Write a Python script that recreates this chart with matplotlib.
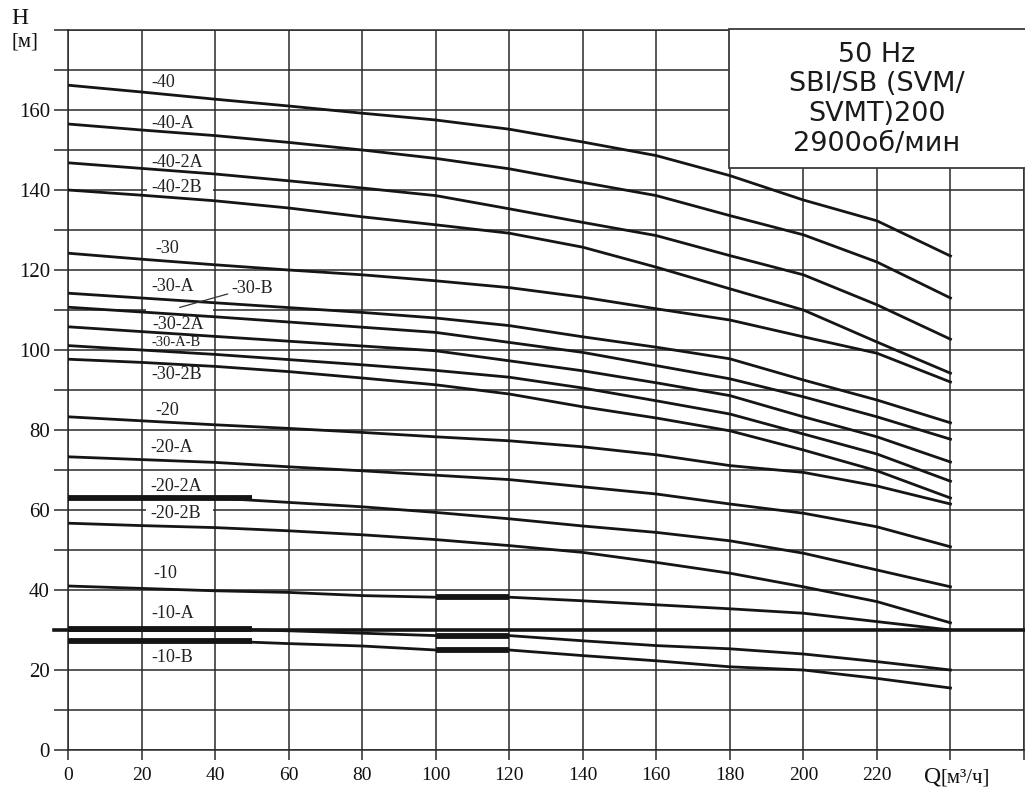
import matplotlib
matplotlib.use("Agg")
import matplotlib.pyplot as plt
from matplotlib.patches import Rectangle

plt.rcParams['font.family'] = ['Liberation Serif', 'DejaVu Serif']

# ---------------- data ----------------
Q = [0, 20, 40, 60, 80, 100, 120, 140, 160, 180, 200, 220, 240]

h_40    = [166.2, 164.5, 162.7, 161.0, 159.2, 157.5, 155.2, 152.0, 148.6, 143.6, 137.5, 132.3, 123.5]
h_40A   = [156.5, 155.0, 153.6, 151.9, 150.0, 147.9, 145.3, 141.9, 138.6, 133.6, 128.8, 122.0, 113.0]
h_40_2A = [146.8, 145.4, 144.0, 142.3, 140.5, 138.6, 135.3, 131.9, 128.6, 123.6, 118.8, 111.3, 102.7]
h_40_2B = [140.0, 138.7, 137.3, 135.5, 133.3, 131.3, 129.2, 125.7, 120.7, 115.3, 110.0, 102.0, 94.2]
h_30    = [124.2, 122.7, 121.3, 120.0, 118.8, 117.3, 115.6, 113.2, 110.3, 107.5, 103.3, 99.2, 92.0]
h_30A   = [114.2, 113.0, 111.8, 110.6, 109.4, 108.0, 106.1, 103.3, 100.7, 97.8, 92.5, 87.5, 81.8]
h_30B   = [110.7, 109.5, 108.3, 107.0, 105.7, 104.4, 101.9, 99.4, 96.1, 92.8, 88.3, 83.3, 77.7]
h_30_2A = [105.8, 104.6, 103.4, 102.2, 101.0, 99.8, 97.3, 94.8, 91.8, 88.6, 83.3, 78.3, 72.0]
h_30AB  = [101.1, 100.0, 98.9, 97.6, 96.3, 94.9, 93.2, 90.5, 87.3, 84.0, 79.0, 74.0, 67.2]
h_30_2B = [97.7, 96.9, 95.9, 94.6, 93.0, 91.3, 89.0, 85.8, 83.0, 79.8, 75.0, 69.8, 63.0]
h_20    = [83.3, 82.3, 81.3, 80.4, 79.4, 78.3, 77.3, 75.8, 73.8, 71.1, 69.4, 66.0, 61.5]
h_20A   = [73.3, 72.6, 71.9, 70.8, 69.8, 68.7, 67.6, 65.8, 64.0, 61.5, 59.2, 55.8, 50.8]
h_20_2A = [63.0, 63.0, 63.0, 61.9, 60.8, 59.4, 57.8, 56.0, 54.4, 52.3, 49.2, 45.0, 40.8]
h_20_2B = [56.7, 56.1, 55.6, 54.8, 53.8, 52.6, 51.1, 49.4, 46.9, 44.2, 40.8, 37.1, 31.8]
h_10    = [41.0, 40.4, 39.8, 39.4, 38.6, 38.2, 38.2, 37.3, 36.3, 35.3, 34.2, 32.1, 30.0]
h_10A   = [30.3, 30.3, 30.3, 29.8, 29.2, 28.6, 28.6, 27.3, 26.1, 25.3, 24.0, 22.1, 20.0]
h_10B   = [27.3, 27.3, 27.3, 26.6, 26.0, 25.0, 25.0, 23.6, 22.3, 20.8, 20.0, 17.9, 15.5]

curve_names = ["-40", "-40-A", "-40-2A", "-40-2B", "-30", "-30-A", "-30-B", "-30-2A",
               "-30-A-B", "-30-2B", "-20", "-20-A", "-20-2A", "-20-2B", "-10", "-10-A", "-10-B"]
curve_values = [h_40, h_40A, h_40_2A, h_40_2B, h_30, h_30A, h_30B, h_30_2A,
                h_30AB, h_30_2B, h_20, h_20A, h_20_2A, h_20_2B, h_10, h_10A, h_10B]

# label anchor (Q, H) for each curve label
label_q = [22.8, 22.8, 22.6, 22.6, 23.8, 22.8, 44.5, 23.0, 22.8, 22.8, 23.8, 22.3, 22.3, 22.3, 23.2, 22.8, 22.8]
label_h = [167.0, 156.6, 146.8, 140.6, 125.3, 115.8, 115.3, 106.4, 101.9, 93.8, 84.8, 75.6, 65.8, 59.1, 44.1, 34.1, 23.1]

# grid-line gaps left around some labels (Q from, Q to, grid H)
gap_q0 = [21.4, 21.2, 21.2]
gap_q1 = [39.4, 39.4, 39.4]
gap_h = [140, 110, 60]

# highlighted working ranges (Q start, Q end, H)
thick_q0 = [0, 0, 0, 100, 100, 100]
thick_q1 = [50, 50, 50, 120, 120, 120]
thick_h = [63.0, 30.3, 27.3, 38.2, 28.6, 25.0]

x_ticks = list(range(0, 261, 20))
x_ticklabels = [str(v) if v <= 220 else "" for v in x_ticks]
y_ticks = list(range(0, 181, 20))
y_ticklabels = [str(v) if v <= 160 else "" for v in y_ticks]
y_minor = list(range(10, 180, 20))

title_lines = ["50 Hz", "SBI/SB (SVM/", "SVMT)200", "2900об/мин"]

# ---------------- figure ----------------
W, H = 1025, 794
fig = plt.figure(figsize=(W / 100, H / 100), dpi=100)
fig.patch.set_facecolor("white")
ax = fig.add_axes([68 / W, 44 / H, (1024 - 68) / W, 720 / H])
ax.set_xlim(0, 260)
ax.set_ylim(0, 180)

grid_col = "#2a2a2a"
line_col = "#151515"

ax.set_xticks(x_ticks)
ax.set_xticklabels(x_ticklabels, fontsize=14)
ax.set_yticks(y_ticks)
ax.set_yticklabels(y_ticklabels, fontsize=15)
ax.set_yticks(y_minor, minor=True)
ax.tick_params(axis="y", which="both", direction="out", length=10, width=1.1,
               color=grid_col, pad=3, labelcolor="#111111")
ax.tick_params(axis="x", which="both", direction="out", length=7, width=1.1,
               color=grid_col, pad=5, labelcolor="#111111")
ax.grid(True, which="both", color=grid_col, lw=1.1)
ax.set_axisbelow(True)
for s in ax.spines.values():
    s.set_color(grid_col)
    s.set_linewidth(1.1)

# gaps in grid lines behind some labels
for q0, q1, h in zip(gap_q0, gap_q1, gap_h):
    ax.add_patch(Rectangle((q0, h - 0.6), q1 - q0, 1.2, facecolor="white", edgecolor="none", zorder=1))

# thick horizontal line at 30
ax.axhline(30, xmin=-14 / 956, xmax=1, color=line_col, lw=2.6, clip_on=False, zorder=3)

for name, vals in zip(curve_names, curve_values):
    ax.plot(Q, vals, color=line_col, lw=2.0, zorder=3, solid_joinstyle="round")

for q0, q1, h in zip(thick_q0, thick_q1, thick_h):
    ax.plot([q0, q1], [h, h], color=line_col, lw=4.2, zorder=3, solid_capstyle="butt")

for name, q, h in zip(curve_names, label_q, label_h):
    fs = 10.5 if name == "-30-A-B" else 13
    ax.text(q, h, name, fontsize=fs, ha="left", va="center", color="#222222", zorder=2)

# pointer line for -30-B
ax.plot([30.4, 43.4], [110.65, 114.0], color="#333333", lw=0.9, zorder=3)

# title box
ax.add_patch(Rectangle((179.7, 145.6), 90, 34.7, facecolor="white", edgecolor="#3a3a3a",
                       lw=1.3, zorder=4, clip_on=False))
for txt, hy in zip(title_lines, [173.8, 166.4, 159.1, 151.6]):
    ax.text(220, hy, txt, fontsize=19.5, family=["DejaVu Sans"], ha="center", va="center",
            color="#1a1a1a", zorder=5)

# axis titles
fig.text(20 / W, 1 - 18 / H, "H", fontsize=17, ha="center", va="center", color="#111111")
fig.text(25 / W, 1 - 42 / H, "[м]", fontsize=15, ha="center", va="center", color="#111111")
fig.text(924 / W, 1 - 777 / H, "Q", fontsize=17, ha="left", va="center", color="#111111")
fig.text(941 / W, 1 - 778 / H, "[м³/ч]", fontsize=15, ha="left", va="center", color="#111111")

fig.savefig("out.png", dpi=100, facecolor="white")
